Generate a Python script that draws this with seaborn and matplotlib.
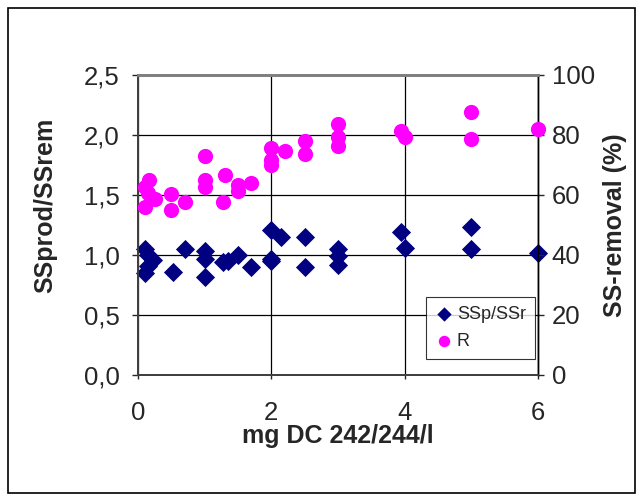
import matplotlib
matplotlib.use("Agg")
import matplotlib.pyplot as plt
import seaborn as sns
from matplotlib.patches import Rectangle
from matplotlib.ticker import FuncFormatter, MultipleLocator

# SSp/SSr ratio (left axis)
ssp_x = [0.1, 0.15, 0.22, 0.15, 0.1, 0.52, 0.7, 1.0, 1.0, 1.0, 1.27, 1.35, 1.5, 1.7,
         2.0, 2.0, 2.0, 2.15, 2.5, 2.5, 3.0, 3.0, 3.0, 3.95, 4.0, 5.0, 5.0, 6.0]
ssp_y = [1.05, 1.0, 0.96, 0.91, 0.85, 0.86, 1.05, 1.03, 0.97, 0.82, 0.94, 0.95, 1.0, 0.9,
         1.21, 0.97, 0.95, 1.15, 1.15, 0.9, 1.05, 0.99, 0.92, 1.19, 1.06, 1.23, 1.05, 1.02]

# R = SS-removal in % (right axis)
r_x = [0.1, 0.1, 0.17, 0.15, 0.25, 0.5, 0.5, 0.7, 1.0, 1.0, 1.0, 1.3, 1.27, 1.5, 1.5,
       1.7, 2.0, 2.0, 2.0, 2.2, 2.5, 2.5, 3.0, 3.0, 3.0, 3.95, 4.0, 5.0, 5.0, 6.0]
r_y = [56.1, 62.6, 65.0, 60.6, 58.6, 60.2, 55.0, 57.7, 73.0, 65.0, 62.6, 66.7, 57.7, 63.3, 61.4,
       64.1, 75.6, 71.7, 69.9, 74.7, 78.0, 73.7, 83.7, 79.4, 76.3, 81.3, 79.4, 87.7, 78.7, 82.0]

sns.set_style("white")
plt.rcParams['font.family'] = ['Liberation Sans', 'DejaVu Sans']

fig = plt.figure(figsize=(6.43, 5), dpi=100)
ax = fig.add_axes([0.2146, 0.25, 0.622, 0.60])
ax2 = ax.twinx()

# outer chart frame
fig.patches.append(Rectangle((0.013, 0.014), 0.974, 0.97, transform=fig.transFigure,
                             fill=False, edgecolor='black', linewidth=1.2))

sns.scatterplot(x=ssp_x, y=ssp_y, ax=ax, marker='D', color='#000080', s=95,
                edgecolor='#000080', linewidth=0, label='SSp/SSr', legend=False,
                zorder=3, clip_on=False)
sns.scatterplot(x=r_x, y=r_y, ax=ax2, marker='o', color='#FF00FF', s=120,
                edgecolor='#FF00FF', linewidth=0, label='R', legend=False,
                zorder=3, clip_on=False)

ax.set_xlim(0, 6)
ax.set_ylim(0, 2.5)
ax2.set_ylim(0, 100)
ax.xaxis.set_major_locator(MultipleLocator(2))
ax.yaxis.set_major_locator(MultipleLocator(0.5))
ax2.yaxis.set_major_locator(MultipleLocator(20))
ax.yaxis.set_major_formatter(FuncFormatter(lambda v, p: f"{v:.1f}".replace('.', ',')))

ax.grid(True, color='black', linewidth=0.9)
ax.set_axisbelow(True)

for a in (ax, ax2):
    a.spines['top'].set_color('#808080')
    a.spines['top'].set_linewidth(2)
    a.spines['left'].set_color('#404040')
    a.spines['left'].set_linewidth(1.3)
    a.spines['bottom'].set_color('#404040')
    a.spines['bottom'].set_linewidth(1.3)
    a.spines['right'].set_color('black')
    a.spines['right'].set_linewidth(1)

ax.tick_params(axis='y', direction='out', length=4, width=1, pad=9, labelsize=18.5, left=True)
ax.tick_params(axis='x', direction='out', length=3, width=1, pad=16, labelsize=18.5, bottom=True)
ax2.tick_params(axis='y', direction='out', length=4, width=1, pad=6, labelsize=18.5, right=True)

ax.set_xlabel('mg DC 242/244/l', fontsize=18, fontweight='bold')
ax.xaxis.set_label_coords(0.5, -0.165)
ax.set_ylabel('SSprod/SSrem', fontsize=18, fontweight='bold')
ax.yaxis.set_label_coords(-0.2025, 0.567)
ax2.set_ylabel('SS-removal (%)', fontsize=18, fontweight='bold', rotation=90)
ax2.yaxis.set_label_coords(1.1625, 0.5)

h1, l1 = ax.get_legend_handles_labels()
h2, l2 = ax2.get_legend_handles_labels()
leg = ax2.legend(h1 + h2, l1 + l2, loc='lower right', bbox_to_anchor=(0.9925, 0.053),
                 frameon=True, fancybox=False, fontsize=13, handletextpad=0.2,
                 handlelength=1.0, borderpad=0.5, labelspacing=0.55, markerscale=0.75,
                 borderaxespad=0)
leg.get_frame().set_edgecolor('black')
leg.get_frame().set_linewidth(0.8)

fig.savefig('out.png', dpi=100)
